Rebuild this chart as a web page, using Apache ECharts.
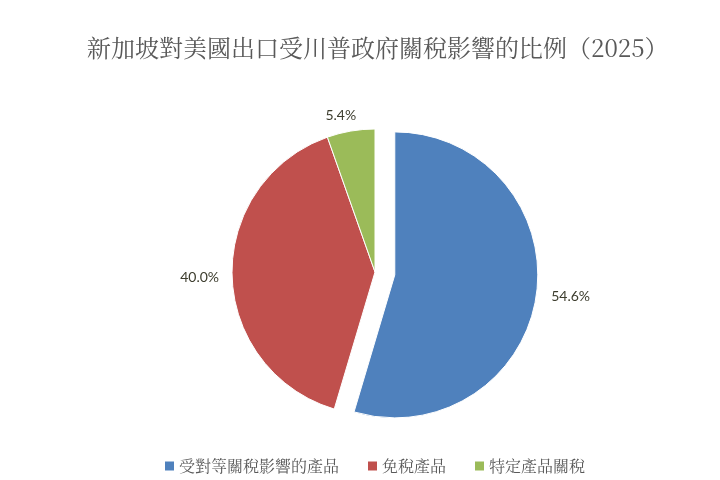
<!DOCTYPE html>
<html>
<head>
<meta charset="utf-8">
<script src="https://cdn.jsdelivr.net/npm/echarts@6/dist/echarts.min.js"></script>
<style>
html,body{margin:0;padding:0;background:#fff;}
#chart{width:720px;height:480px;}
</style>
</head>
<body>
<div id="chart"></div>
<script>
const titleText = '新加坡對美國出口受川普政府關稅影響的比例（2025）';
const categories = ['受對等關稅影響的產品', '免稅產品', '特定產品關稅'];
const values = [54.6, 40.0, 5.4];
const colors = ['#4F81BD', '#C0504D', '#9BBB59'];

const chart = echarts.init(document.getElementById('chart'), null, {renderer: 'canvas'});
const cjk = '"Noto Serif CJK TC", "Noto Sans CJK TC", serif';
const labelOffsets = [[-2, 2], [2, 2], [12, -6]];
chart.setOption({
  backgroundColor: '#ffffff',
  animation: false,
  title: {
    text: titleText,
    left: 82,
    top: 31,
    textStyle: {fontFamily: cjk, fontSize: 24, fontWeight: 'normal', color: '#595959'}
  },
  legend: {
    data: categories,
    bottom: 1,
    left: 160,
    icon: 'rect',
    itemWidth: 9,
    itemHeight: 9,
    itemGap: 29,
    itemStyle: {borderWidth: 0},
    textStyle: {fontFamily: cjk, fontSize: 16, color: '#595959'}
  },
  color: colors,
  series: [{
    type: 'pie',
    center: [375, 272],
    radius: [0, 143],
    startAngle: 90,
    clockwise: true,
    selectedMode: 'single',
    selectedOffset: 20,
    avoidLabelOverlap: false,
    itemStyle: {borderColor: '#ffffff', borderWidth: 1},
    label: {
      show: true,
      position: 'outside',
      formatter: function (p) { return p.value.toFixed(1) + '%'; },
      fontFamily: 'Lato, "Open Sans", sans-serif',
      fontSize: 14,
      color: '#3d3d2e'
    },
    labelLine: {show: false, length: 10, length2: 0},
    emphasis: {disabled: true},
    data: categories.map((c, i) => ({
      name: c,
      value: values[i],
      selected: i === 0,
      label: {offset: labelOffsets[i]}
    }))
  }]
});
</script>
</body>
</html>
